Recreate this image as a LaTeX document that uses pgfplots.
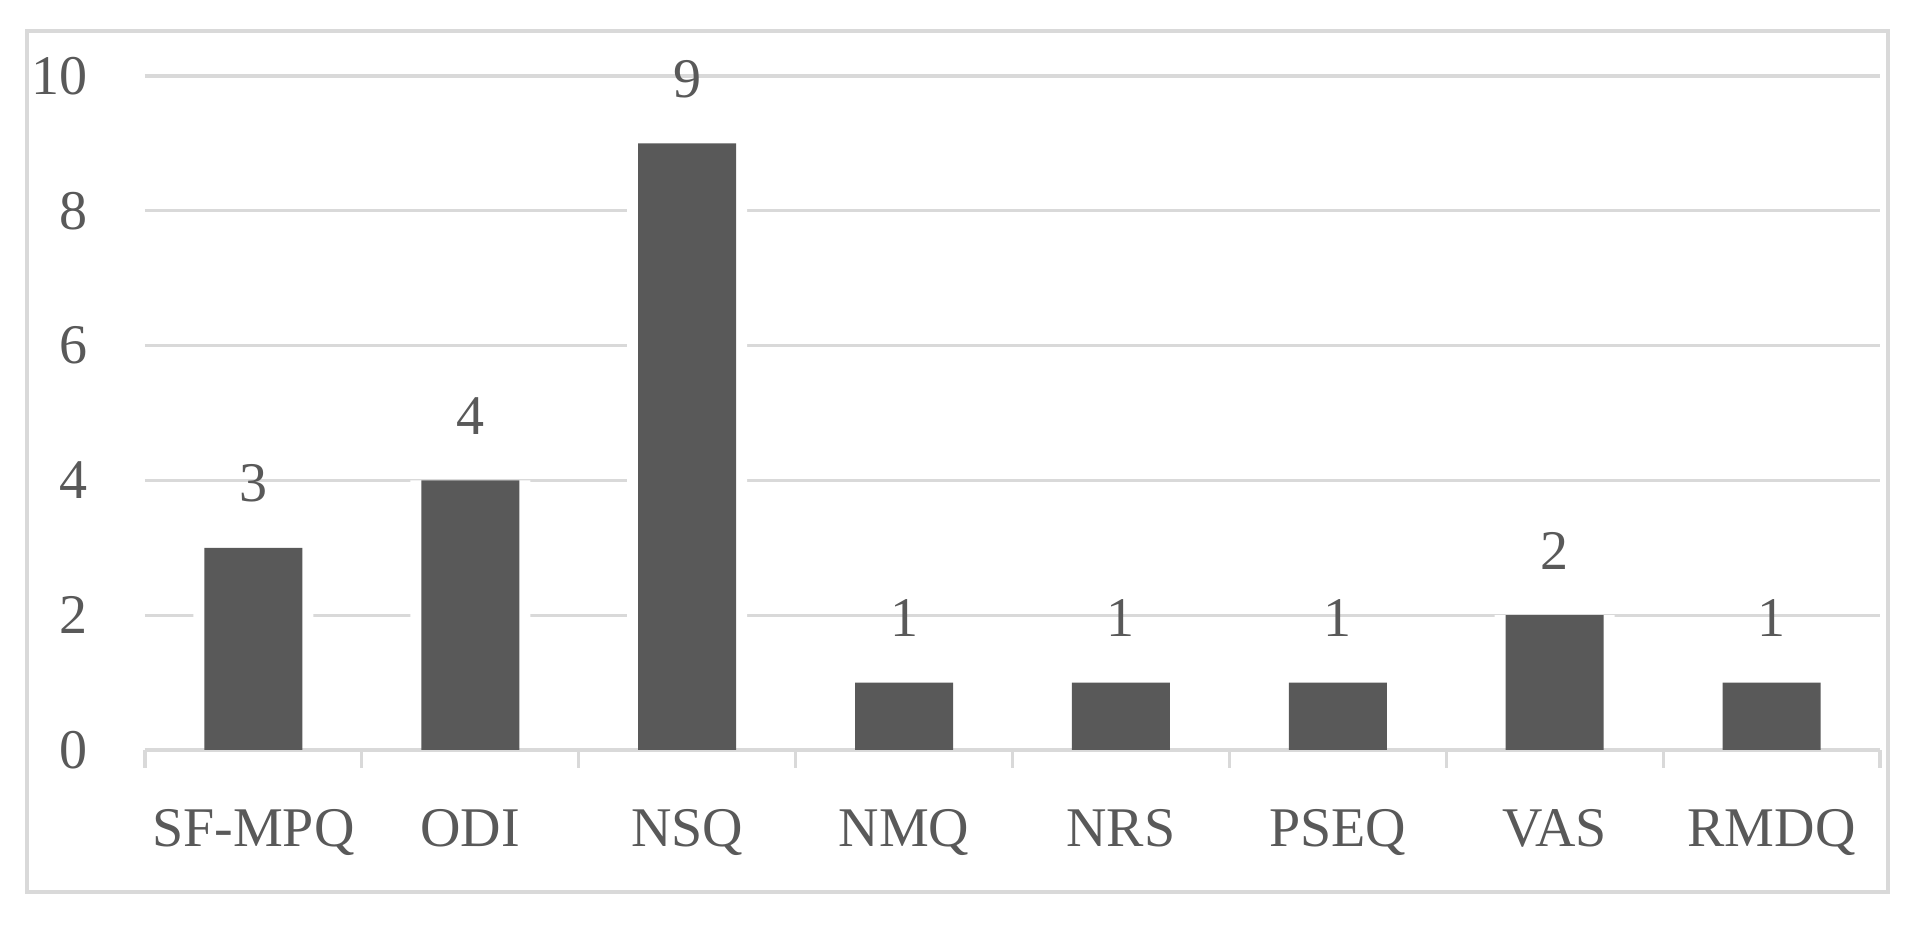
\documentclass[border=0pt]{standalone}
\usepackage{fontspec}
\setmainfont{Liberation Serif}
\usepackage{pgfplots}
\pgfplotsset{compat=1.18}
\definecolor{bargrey}{HTML}{595959}
\definecolor{gridgrey}{HTML}{D9D9D9}
\begin{document}
\begin{tikzpicture}
\path[use as bounding box] (-36.25pt,-44.25pt) rectangle (443pt,187.5pt);
\draw[gridgrey, line width=0.8pt] (-29.5pt,-35.5pt) rectangle (435.75pt,179.75pt);
\begin{axis}[
  at={(0,0)}, anchor=south west,
  scale only axis, width=433.75pt, height=168.5pt,
  xmin=-0.5, xmax=7.5, ymin=0, ymax=10,
  ytick={0,2,...,10},
  xtick={0,...,7},
  xticklabels={SF-MPQ,ODI,NSQ,NMQ,NRS,PSEQ,VAS,RMDQ},
  minor xtick={-0.5,0.5,...,7.5},
  major tick length=0pt,
  minor tick length=4.5pt,
  tick align=outside,
  axis x line*=bottom, axis y line*=left,
  y axis line style={draw=none},
  x axis line style={gridgrey, line width=0.8pt},
  tick style={gridgrey, line width=0.8pt},
  ymajorgrids,
  grid style={gridgrey, line width=0.8pt},
  /pgf/number format/assume math mode=true,
  ticklabel style={font=\fontsize{14}{16}\selectfont, text=bargrey},
  xticklabel style={anchor=base, inner sep=0pt, yshift=-24.25pt},
  yticklabel style={anchor=east, inner sep=0pt, xshift=-14.25pt},
  clip=false,
]
\addplot[ybar, bar shift=0pt, bar width=30pt, fill=white, draw=none]
  coordinates {(0,3) (1,4) (2,9) (3,1) (4,1) (5,1) (6,2) (7,1)};
\addplot[gridgrey, line width=0.8pt, mark=none] coordinates {(-0.5,0) (7.5,0)};
\addplot[ybar, bar shift=0pt, bar width=24.5pt, fill=bargrey, draw=none,
  nodes near coords,
  nodes near coords style={font=\fontsize{14}{16}\selectfont, text=bargrey, anchor=base, inner sep=0pt, yshift=11.5pt}]
  coordinates {(0,3) (1,4) (2,9) (3,1) (4,1) (5,1) (6,2) (7,1)};
\end{axis}
\end{tikzpicture}
\end{document}
